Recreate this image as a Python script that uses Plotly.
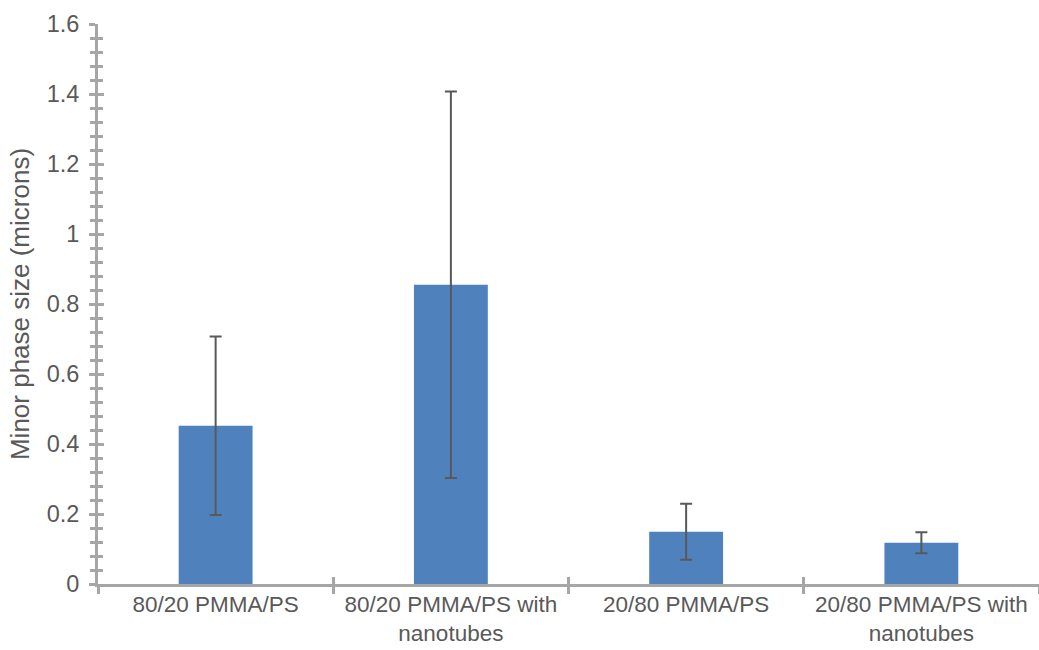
import plotly.graph_objects as go

# Minor phase size for each blend, with standard deviation
categories = [
    "80/20 PMMA/PS",
    "80/20 PMMA/PS with<br>nanotubes",
    "20/80 PMMA/PS",
    "20/80 PMMA/PS with<br>nanotubes",
]
phase_size = [0.452, 0.855, 0.149, 0.118]
std_dev = [0.255, 0.552, 0.080, 0.030]

y_ticks = [0, 0.2, 0.4, 0.6, 0.8, 1.0, 1.2, 1.4, 1.6]
y_tick_text = ["0", "0.2", "0.4", "0.6", "0.8", "1", "1.2", "1.4", "1.6"]

AXIS = "#A6A6A6"
TEXT = "#595959"
FONT = "Liberation Sans, Arial, sans-serif"

fig = go.Figure()
fig.add_trace(
    go.Bar(
        x=categories,
        y=phase_size,
        marker=dict(color="#4F81BD", line=dict(width=0)),
        error_y=dict(type="data", array=std_dev, visible=True,
                     color="#595959", thickness=2, width=6),
        hoverinfo="x+y",
    )
)
# invisible companion trace so the overlaid axes (inner tick halves) are drawn
fig.add_trace(
    go.Scatter(
        x=categories,
        y=phase_size,
        xaxis="x2",
        yaxis="y2",
        mode="none",
        hoverinfo="skip",
        showlegend=False,
    )
)

n_cat = len(categories)

fig.update_layout(
    width=1039,
    height=650,
    margin=dict(l=98, r=0, t=24, b=66),
    paper_bgcolor="white",
    plot_bgcolor="white",
    bargap=0.686,
    showlegend=False,
    font=dict(family=FONT, color=TEXT),
    xaxis=dict(
        type="category",
        range=[-0.5, n_cat - 0.5],
        automargin=False,
        showline=True, linecolor=AXIS, linewidth=3,
        tickson="boundaries", ticks="outside", ticklen=7, tickwidth=3,
        tickcolor=AXIS,
        tickfont=dict(size=22.5, color=TEXT, family=FONT),
        showgrid=False, zeroline=False,
        ticklabelstandoff=-2,
    ),
    xaxis2=dict(
        type="category",
        range=[-0.5, n_cat - 0.5],
        overlaying="x", anchor="y2", side="bottom",
        tickson="boundaries",
        ticks="inside", ticklen=7, tickwidth=3, tickcolor=AXIS,
        showticklabels=False, showline=False, showgrid=False, zeroline=False,
    ),
    yaxis=dict(
        range=[0, 1.6],
        automargin=False,
        tickvals=y_ticks, ticktext=y_tick_text,
        showline=True, linecolor=AXIS, linewidth=3,
        ticks="outside", ticklen=6, tickwidth=3, tickcolor=AXIS,
        minor=dict(dtick=0.04, ticks="outside", ticklen=5, tickwidth=2.5,
                   tickcolor=AXIS, showgrid=False),
        tickfont=dict(size=23.5, color=TEXT, family=FONT),
        ticklabelstandoff=5,
        showgrid=False, zeroline=False,
        title=dict(text="Minor phase size (microns)",
                   font=dict(size=26, color=TEXT, family=FONT),
                   standoff=10),
    ),
    yaxis2=dict(
        overlaying="y", anchor="x2", side="left",
        range=[0, 1.6],
        tickvals=y_ticks,
        ticks="inside", ticklen=6, tickwidth=3, tickcolor=AXIS,
        minor=dict(dtick=0.04, ticks="inside", ticklen=5, tickwidth=2.5,
                   tickcolor=AXIS, showgrid=False),
        showticklabels=False, showline=False, showgrid=False, zeroline=False,
    ),
)

fig.write_html("out.html")
